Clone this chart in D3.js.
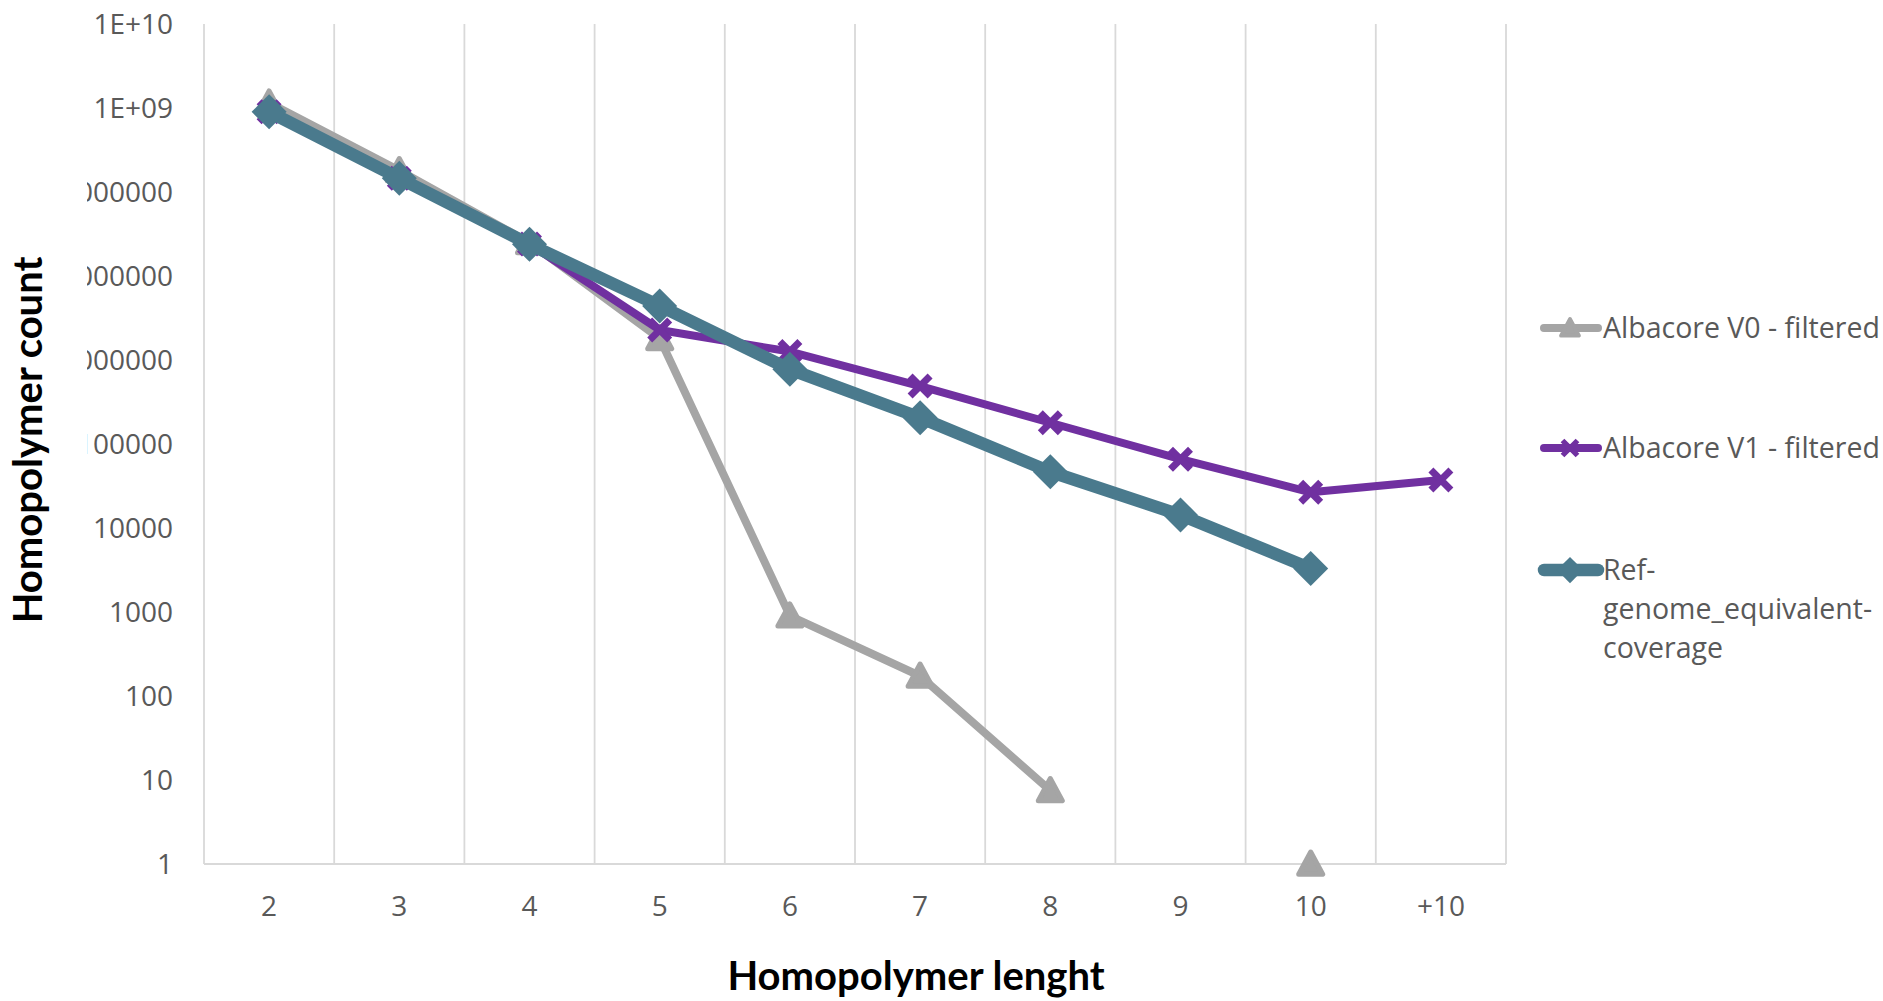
<!DOCTYPE html>
<html><head><meta charset="utf-8">
<script src="https://cdn.jsdelivr.net/npm/d3@7"></script>
<style>
html,body{margin:0;padding:0;background:#fff;}
svg{display:block;}
</style></head>
<body>
<script>
const categories = ["2","3","4","5","6","7","8","9","10","+10"];
const seriesNames = ["Albacore V0 - filtered","Albacore V1 - filtered","Ref-genome_equivalent-coverage"];
const v0Values = [1.15e9, 1.8e8, 2.5e7, 1.8e6, 900, 173, 7.5, null, 1, null];
const v1Values = [9.0e8, 1.46e8, 2.4e7, 2.28e6, 1.26e6, 4.9e5, 1.79e5, 6.6e4, 2.66e4, 3.73e4];
const refValues = [9.0e8, 1.46e8, 2.38e7, 4.4e6, 7.75e5, 2.06e5, 4.68e4, 1.43e4, 3.3e3, null];
const yTickValues = [1,10,100,1000,10000,100000,1000000,10000000,100000000,1000000000,10000000000];
const yTickLabels = ["1","10","100","1000","10000","100000","1000000","10000000","100000000","1E+09","1E+10"];
const legendLines = [["Albacore V0 - filtered"],["Albacore V1 - filtered"],["Ref-","genome_equivalent-","coverage"]];

const W = 1883, H = 1001;
const L = 204, R = 1506, T = 24, B = 864;
const svg = d3.select("body").append("svg").attr("width", W).attr("height", H);

const x = d3.scaleBand().domain(categories).range([L, R]);
const y = d3.scaleLog().domain([1, 1e10]).range([B, T]);
const cx = c => x(c) + x.bandwidth() / 2;

const grid = "#d9d9d9", textCol = "#595959";

// vertical gridlines at band boundaries
const bounds = categories.map(c => x(c)).concat([R]);
svg.append("g").selectAll("line").data(bounds).join("line")
  .attr("x1", d => d).attr("x2", d => d).attr("y1", T).attr("y2", B)
  .attr("stroke", grid).attr("stroke-width", 1.8);
// bottom axis line
svg.append("line").attr("x1", L).attr("x2", R).attr("y1", B).attr("y2", B)
  .attr("stroke", grid).attr("stroke-width", 2);

// y tick labels (clipped like the original)
svg.append("clipPath").attr("id", "yclip").append("rect")
  .attr("x", 87).attr("y", 0).attr("width", 112).attr("height", H);
const yAxis = d3.axisLeft(y).tickValues(yTickValues)
  .tickFormat((d, i) => yTickLabels[i]).tickSize(0).tickPadding(0);
const yWrap = svg.append("g").attr("clip-path", "url(#yclip)");
const yg = yWrap.append("g").attr("transform", `translate(173,0)`).call(yAxis);
yg.select(".domain").remove();
yg.selectAll("text").attr("font-family", "Open Sans").attr("font-size", 28).attr("fill", textCol).attr("dy", "0.35em");

// x tick labels
const xAxis = d3.axisBottom(x).tickSize(0).tickPadding(0);
const xg = svg.append("g").attr("transform", `translate(0,906)`).call(xAxis);
xg.select(".domain").remove();
xg.selectAll("text").attr("font-family", "Open Sans").attr("font-size", 28).attr("fill", textCol).attr("dy", "0.35em");

// axis titles
svg.append("text").attr("x", 916).attr("y", 976).attr("text-anchor", "middle").attr("dy", "0.35em")
  .attr("font-family", "Lato").attr("font-weight", "bold").attr("font-size", 40).attr("fill", "#000")
  .text("Homopolymer lenght");
svg.append("text").attr("transform", "translate(28,440) rotate(-90)").attr("text-anchor", "middle").attr("dy", "0.35em")
  .attr("font-family", "Lato").attr("font-weight", "bold").attr("font-size", 40).attr("fill", "#000")
  .text("Homopolymer count");

const colors = ["#a5a5a5", "#7030a0", "#4a7a8d"];
const widths = [8, 8, 12.5];
const allSeries = [v0Values, v1Values, refValues];

function drawMarker(g, type, px, py, color, s) {
  if (type === 0) {
    const h = 12 * s;
    g.append("path").attr("d", `M${px},${py - h}L${px + h},${py + h * 0.85}L${px - h},${py + h * 0.85}Z`)
      .attr("fill", color).attr("stroke", color).attr("stroke-width", 5 * s).attr("stroke-linejoin", "round");
  } else if (type === 1) {
    const h = 10 * s;
    g.append("path").attr("d", `M${px - h},${py - h}L${px + h},${py + h}M${px - h},${py + h}L${px + h},${py - h}`)
      .attr("stroke", color).attr("stroke-width", 7 * s).attr("fill", "none");
  } else {
    const h = 17.5 * s;
    g.append("path").attr("d", `M${px},${py - h}L${px + h},${py}L${px},${py + h}L${px - h},${py}Z`)
      .attr("fill", color);
  }
}

allSeries.forEach((vals, si) => {
  const g = svg.append("g");
  const pts = categories.map((c, i) => ({c, v: vals[i]}));
  const line = d3.line().defined(d => d.v != null).x(d => cx(d.c)).y(d => y(d.v));
  g.append("path").datum(pts).attr("d", line).attr("fill", "none")
    .attr("stroke", colors[si]).attr("stroke-width", widths[si])
    .attr("stroke-linejoin", "round").attr("stroke-linecap", "round");
  pts.filter(d => d.v != null).forEach(d => drawMarker(g, si, cx(d.c), y(d.v), colors[si], 1));
});

// legend
const legendY = [328, 448, 570];
legendLines.forEach((lines, i) => {
  const g = svg.append("g");
  const ly = legendY[i];
  g.append("line").attr("x1", 1544).attr("x2", 1598).attr("y1", ly).attr("y2", ly)
    .attr("stroke", colors[i]).attr("stroke-width", widths[i]).attr("stroke-linecap", "round");
  drawMarker(g, i, 1570, ly, colors[i], 0.75);
  const t = g.append("text").attr("x", 1603).attr("y", ly)
    .attr("font-family", "Open Sans").attr("font-size", 28.5).attr("fill", textCol);
  lines.forEach((ln, j) => t.append("tspan").attr("x", 1603).attr("dy", j === 0 ? "0.35em" : 39).text(ln));
});
</script>
</body></html>
